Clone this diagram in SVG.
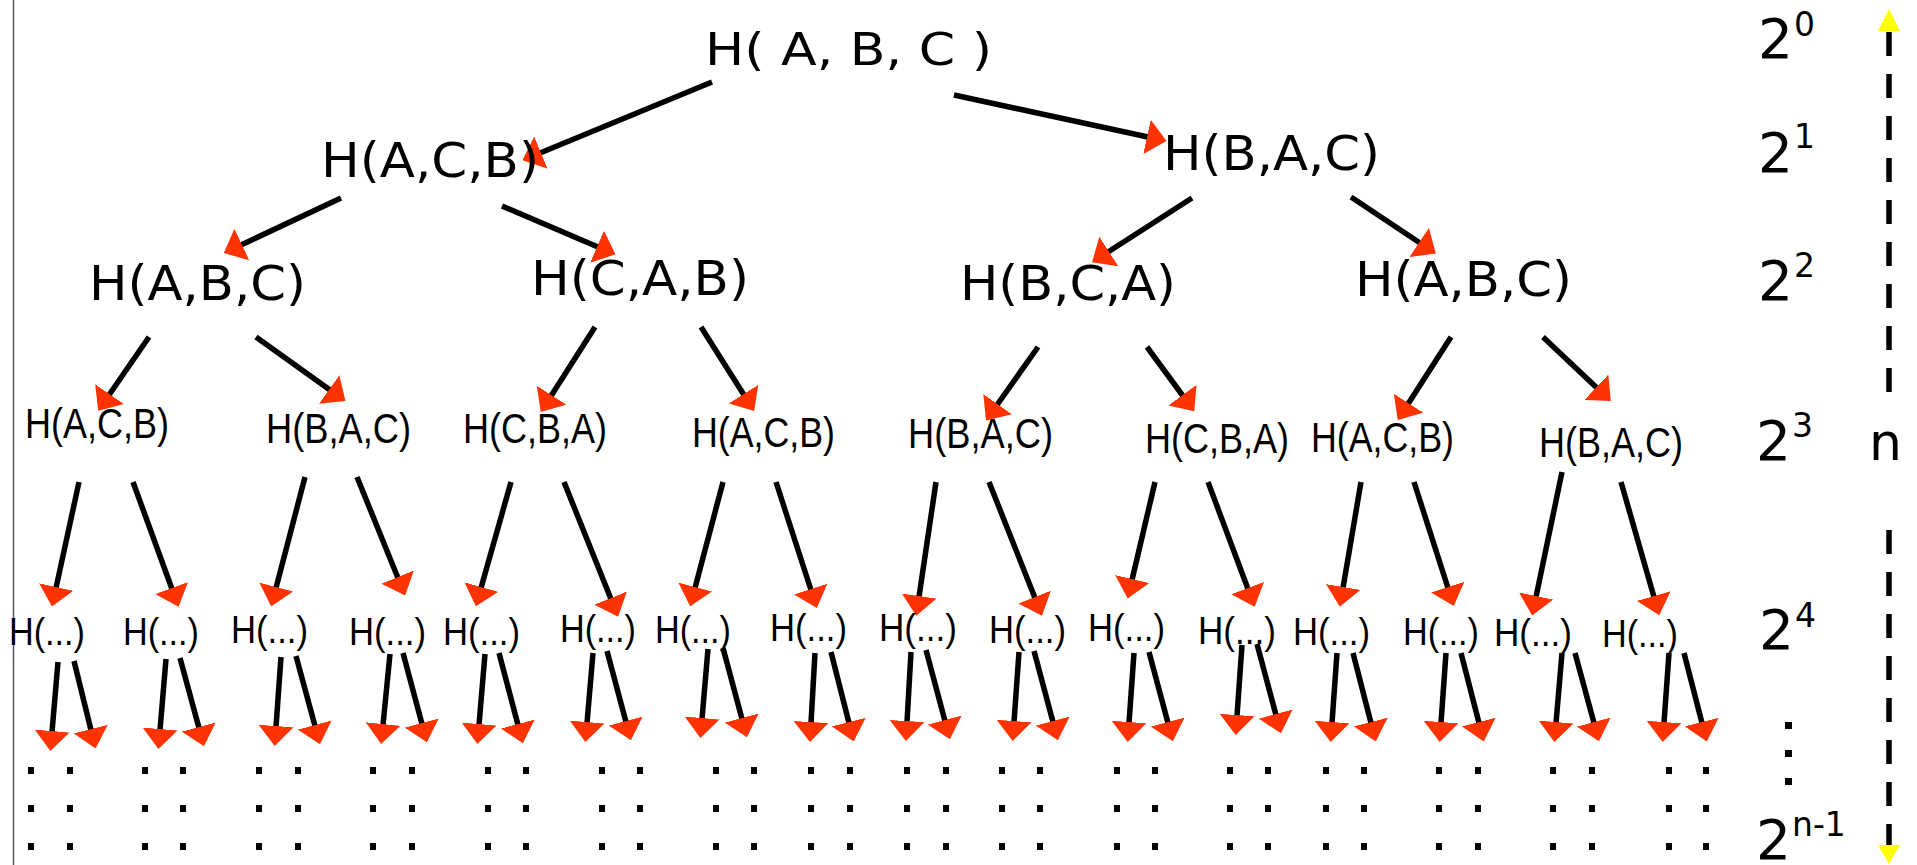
<svg xmlns="http://www.w3.org/2000/svg" xmlns:xlink="http://www.w3.org/1999/xlink" width="1917" height="865" viewBox="0 0 1917 865">
<style>
  .wide { font-family: "DejaVu Sans", Verdana, sans-serif; fill: #000; }
  .t0 { font-size: 45px; }
  .t1 { font-size: 48px; }
  .narrow { font-family: "Liberation Sans Narrow", "Liberation Sans", Arial, sans-serif; fill: #000; }
  .t3 { font-size: 42px; }
  .t4 { font-size: 38px; }
  .pow { font-family: "DejaVu Sans", Verdana, sans-serif; font-size: 55px; fill: #000; }
  .sup { font-size: 33px; }
  .conn path { fill: none; stroke: #000; stroke-width: 5.5; marker-end: url(#ah); }
  .dot { fill: #000; }
  .axis { fill: none; stroke: #000; stroke-width: 5.5; stroke-dasharray: 24 18; }
  .yel { fill: #ffff00; }
</style>
<defs>
  <marker id="ah" markerUnits="userSpaceOnUse" viewBox="0 0 20 35" refX="1" refY="17.5" markerWidth="20" markerHeight="35" orient="auto">
    <path d="M0,0 L20,17.5 L0,35 Z" fill="#ff3300"/>
  </marker>
  <g id="dotcol">
    <rect class="dot" x="0" y="767" width="6" height="7"/>
    <rect class="dot" x="0" y="805" width="6" height="7"/>
    <rect class="dot" x="0" y="843" width="6" height="7"/>
  </g>
</defs>
<rect width="1917" height="865" fill="#fff"/>
<line x1="13.5" y1="0" x2="13.5" y2="865" stroke="#555" stroke-width="1.5"/>

<g id="connectors" class="conn">
  <path d="M712,82 L540,153"/>
  <path d="M954,95 L1148,137"/>
  <path d="M341,198 L241,245"/>
  <path d="M502,206 L598,247"/>
  <path d="M1192,198 L1108,252"/>
  <path d="M1351,197 L1420,243"/>
  <path d="M149,337 L109,395"/>
  <path d="M256,337 L330,390"/>
  <path d="M595,327 L551,396"/>
  <path d="M701,327 L744,395"/>
  <path d="M1038,347 L997,405"/>
  <path d="M1147,347 L1183,396"/>
  <path d="M1451,337 L1408,404"/>
  <path d="M1543,337 L1597,388"/>
  <path d="M79,482 L56,588"/>
  <path d="M133,482 L172,589"/>
  <path d="M305,477 L276,588"/>
  <path d="M357,477 L398,578"/>
  <path d="M511,482 L481,588"/>
  <path d="M564,482 L611,599"/>
  <path d="M723,482 L695,588"/>
  <path d="M776,482 L811,590"/>
  <path d="M936,482 L919,597"/>
  <path d="M989,482 L1035,598"/>
  <path d="M1155,482 L1132,580"/>
  <path d="M1208,482 L1248,589"/>
  <path d="M1361,482 L1343,588"/>
  <path d="M1414,482 L1448,588"/>
  <path d="M1562,472 L1536,597"/>
  <path d="M1621,482 L1654,597"/>
  <path d="M58,662 L52,732"/><path d="M74,661 L91,730"/>
  <path d="M166,659 L160,730"/><path d="M180,658 L199,728"/>
  <path d="M281,657 L276,727"/><path d="M296,656 L315,726"/>
  <path d="M390,654 L383,725"/><path d="M403,653 L422,724"/>
  <path d="M485,654 L479,725"/><path d="M499,653 L518,725"/>
  <path d="M593,653 L587,723"/><path d="M607,651 L626,722"/>
  <path d="M708,649 L702,719"/><path d="M723,648 L742,719"/>
  <path d="M815,653 L811,723"/><path d="M831,652 L849,723"/>
  <path d="M911,652 L907,722"/><path d="M926,650 L945,721"/>
  <path d="M1019,652 L1014,722"/><path d="M1034,651 L1053,722"/>
  <path d="M1134,653 L1129,723"/><path d="M1149,652 L1168,723"/>
  <path d="M1242,645 L1237,716"/><path d="M1257,644 L1276,715"/>
  <path d="M1337,653 L1332,723"/><path d="M1353,653 L1371,723"/>
  <path d="M1446,653 L1441,723"/><path d="M1461,653 L1479,723"/>
  <path d="M1562,653 L1556,723"/><path d="M1575,653 L1594,723"/>
  <path d="M1669,653 L1664,723"/><path d="M1684,653 L1702,723"/>
</g>

<g id="n0"><text class="wide t0" x="705" y="65" textLength="287" lengthAdjust="spacingAndGlyphs">H( A, B, C )</text></g>
<g id="n1a"><text class="wide t1" x="321" y="177" textLength="218" lengthAdjust="spacingAndGlyphs">H(A,C,B)</text></g>
<g id="n1b"><text class="wide t1" x="1163" y="170" textLength="217" lengthAdjust="spacingAndGlyphs">H(B,A,C)</text></g>
<g id="n2a"><text class="wide t1" x="89" y="300" textLength="217" lengthAdjust="spacingAndGlyphs">H(A,B,C)</text></g>
<g id="n2b"><text class="wide t1" x="531" y="295" textLength="218" lengthAdjust="spacingAndGlyphs">H(C,A,B)</text></g>
<g id="n2c"><text class="wide t1" x="960" y="300" textLength="216" lengthAdjust="spacingAndGlyphs">H(B,C,A)</text></g>
<g id="n2d"><text class="wide t1" x="1355" y="296" textLength="217" lengthAdjust="spacingAndGlyphs">H(A,B,C)</text></g>

<g id="n3a"><text class="narrow t3" x="25" y="438" textLength="144" lengthAdjust="spacingAndGlyphs">H(A,C,B)</text></g>
<g id="n3b"><text class="narrow t3" x="266" y="443" textLength="145" lengthAdjust="spacingAndGlyphs">H(B,A,C)</text></g>
<g id="n3c"><text class="narrow t3" x="463" y="443" textLength="144" lengthAdjust="spacingAndGlyphs">H(C,B,A)</text></g>
<g id="n3d"><text class="narrow t3" x="692" y="447" textLength="143" lengthAdjust="spacingAndGlyphs">H(A,C,B)</text></g>
<g id="n3e"><text class="narrow t3" x="908" y="448" textLength="145" lengthAdjust="spacingAndGlyphs">H(B,A,C)</text></g>
<g id="n3f"><text class="narrow t3" x="1145" y="453" textLength="144" lengthAdjust="spacingAndGlyphs">H(C,B,A)</text></g>
<g id="n3g"><text class="narrow t3" x="1311" y="452" textLength="143" lengthAdjust="spacingAndGlyphs">H(A,C,B)</text></g>
<g id="n3h"><text class="narrow t3" x="1539" y="457" textLength="144" lengthAdjust="spacingAndGlyphs">H(B,A,C)</text></g>

<g id="n4a"><text class="narrow t4" x="9" y="645" textLength="76" lengthAdjust="spacingAndGlyphs">H(...)</text></g>
<g id="n4b"><text class="narrow t4" x="123" y="645" textLength="76" lengthAdjust="spacingAndGlyphs">H(...)</text></g>
<g id="n4c"><text class="narrow t4" x="231" y="643" textLength="77" lengthAdjust="spacingAndGlyphs">H(...)</text></g>
<g id="n4d"><text class="narrow t4" x="349" y="645" textLength="77" lengthAdjust="spacingAndGlyphs">H(...)</text></g>
<g id="n4e"><text class="narrow t4" x="443" y="645" textLength="77" lengthAdjust="spacingAndGlyphs">H(...)</text></g>
<g id="n4f"><text class="narrow t4" x="560" y="642" textLength="76" lengthAdjust="spacingAndGlyphs">H(...)</text></g>
<g id="n4g"><text class="narrow t4" x="655" y="643" textLength="76" lengthAdjust="spacingAndGlyphs">H(...)</text></g>
<g id="n4h"><text class="narrow t4" x="770" y="641" textLength="77" lengthAdjust="spacingAndGlyphs">H(...)</text></g>
<g id="n4i"><text class="narrow t4" x="879" y="641" textLength="78" lengthAdjust="spacingAndGlyphs">H(...)</text></g>
<g id="n4j"><text class="narrow t4" x="989" y="643" textLength="77" lengthAdjust="spacingAndGlyphs">H(...)</text></g>
<g id="n4k"><text class="narrow t4" x="1088" y="641" textLength="77" lengthAdjust="spacingAndGlyphs">H(...)</text></g>
<g id="n4l"><text class="narrow t4" x="1198" y="644" textLength="78" lengthAdjust="spacingAndGlyphs">H(...)</text></g>
<g id="n4m"><text class="narrow t4" x="1293" y="645" textLength="77" lengthAdjust="spacingAndGlyphs">H(...)</text></g>
<g id="n4n"><text class="narrow t4" x="1403" y="645" textLength="76" lengthAdjust="spacingAndGlyphs">H(...)</text></g>
<g id="n4o"><text class="narrow t4" x="1494" y="646" textLength="78" lengthAdjust="spacingAndGlyphs">H(...)</text></g>
<g id="n4p"><text class="narrow t4" x="1602" y="647" textLength="76" lengthAdjust="spacingAndGlyphs">H(...)</text></g>

<g id="dots">
  <use xlink:href="#dotcol" x="28"/><use xlink:href="#dotcol" x="67"/>
  <use xlink:href="#dotcol" x="142"/><use xlink:href="#dotcol" x="180"/>
  <use xlink:href="#dotcol" x="256"/><use xlink:href="#dotcol" x="295"/>
  <use xlink:href="#dotcol" x="370"/><use xlink:href="#dotcol" x="409"/>
  <use xlink:href="#dotcol" x="485"/><use xlink:href="#dotcol" x="523"/>
  <use xlink:href="#dotcol" x="599"/><use xlink:href="#dotcol" x="637"/>
  <use xlink:href="#dotcol" x="713"/><use xlink:href="#dotcol" x="751"/>
  <use xlink:href="#dotcol" x="808"/><use xlink:href="#dotcol" x="847"/>
  <use xlink:href="#dotcol" x="904"/><use xlink:href="#dotcol" x="943"/>
  <use xlink:href="#dotcol" x="999"/><use xlink:href="#dotcol" x="1037"/>
  <use xlink:href="#dotcol" x="1114"/><use xlink:href="#dotcol" x="1152"/>
  <use xlink:href="#dotcol" x="1227"/><use xlink:href="#dotcol" x="1265"/>
  <use xlink:href="#dotcol" x="1323"/><use xlink:href="#dotcol" x="1361"/>
  <use xlink:href="#dotcol" x="1436"/><use xlink:href="#dotcol" x="1475"/>
  <use xlink:href="#dotcol" x="1550"/><use xlink:href="#dotcol" x="1589"/>
  <use xlink:href="#dotcol" x="1666"/><use xlink:href="#dotcol" x="1703"/>
  <rect class="dot" x="1785" y="722" width="7" height="7"/>
  <rect class="dot" x="1785" y="750" width="7" height="7"/>
  <rect class="dot" x="1785" y="778" width="7" height="7"/>
</g>

<g id="levels">
  <text class="pow" x="1758" y="58">2<tspan class="sup" x="1794" y="36">0</tspan></text>
  <text class="pow" x="1758" y="172">2<tspan class="sup" x="1794" y="148">1</tspan></text>
  <text class="pow" x="1758" y="300">2<tspan class="sup" x="1794" y="277">2</tspan></text>
  <text class="pow" x="1756" y="460">2<tspan class="sup" x="1792" y="437">3</tspan></text>
  <text class="pow" x="1759" y="649">2<tspan class="sup" x="1795" y="627">4</tspan></text>
  <text class="pow" x="1756" y="859">2<tspan class="sup" x="1792" y="836">n-1</tspan></text>
  <text class="pow" x="1869" y="460" style="font-size:52px">n</text>
</g>

<g id="axis">
  <path class="axis" d="M1889,32 V392"/>
  <path class="axis" d="M1889,530 V848"/>
  <polygon class="yel" points="1889,9 1900,31 1878,31"/>
  <polygon class="yel" points="1878,845 1900,845 1889,864"/>
</g>
</svg>
